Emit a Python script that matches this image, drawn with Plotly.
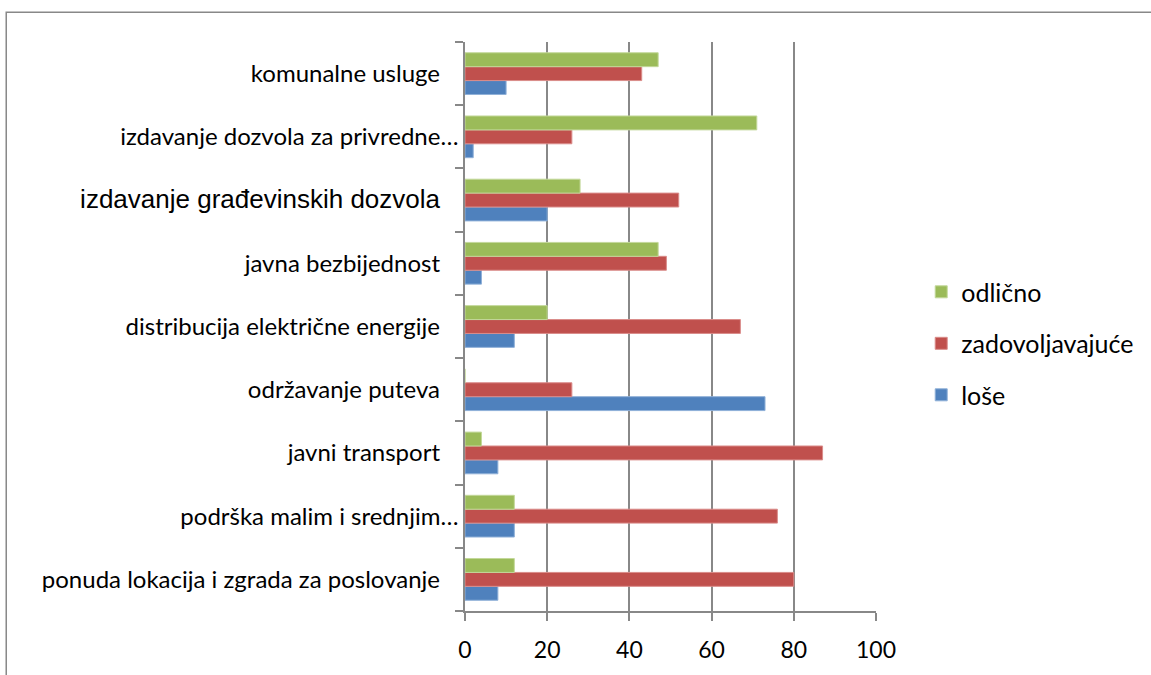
import plotly.graph_objects as go

categories = [
    "ponuda lokacija i zgrada za poslovanje",
    "podrška malim i srednjim…",
    "javni transport",
    "održavanje puteva",
    "distribucija električne energije",
    "javna bezbijednost",
    "izdavanje građevinskih dozvola",
    "izdavanje dozvola za privredne…",
    "komunalne usluge",
]
lose = [8, 12, 8, 73, 12, 4, 20, 2, 10]
zadovoljavajuce = [80, 76, 87, 26, 67, 49, 52, 26, 43]
odlicno = [12, 12, 4, 0, 20, 47, 28, 71, 47]
x_ticks = [0, 20, 40, 60, 80, 100]

PAD = "\u00a0" * 3
tick_text = []
for c in categories:
    if c.endswith("…"):
        tick_text.append(c)
    elif c == "izdavanje građevinskih dozvola":
        tick_text.append('<span style="font-family:Liberation Sans, Arial; font-size:26px">' + c + '</span>' + PAD)
    else:
        tick_text.append(c + PAD)

fig = go.Figure()
series = [
    ("loše", lose, "#4F81BD", "#8fb0d8", 3),
    ("zadovoljavajuće", zadovoljavajuce, "#C0504D", "#da8c8a", 2),
    ("odlično", odlicno, "#9BBB59", "#c3d89a", 1),
]
for name, vals, col, lcol, rank in series:
    fig.add_trace(go.Bar(
        y=categories, x=vals, name=name, orientation="h",
        marker=dict(color=col, line=dict(color=lcol, width=1)),
        legendgroup=name, legendrank=rank,
    ))

fig.update_layout(
    width=1151, height=675,
    barmode="group", bargap=0.34, bargroupgap=0,
    paper_bgcolor="white", plot_bgcolor="white",
    margin=dict(l=465, r=273, t=42, b=58),
    font=dict(family="Lato, Carlito, sans-serif", size=24, color="black"),
    legend=dict(
        x=1.11, y=0.47, xanchor="left", yanchor="middle",
        traceorder="grouped", tracegroupgap=16,
        font=dict(size=25),
    ),
    showlegend=True,
)
fig.update_xaxes(
    range=[0, 100], tickvals=x_ticks,
    showgrid=True, gridcolor="#888888", gridwidth=1.5,
    showline=True, linecolor="#888888", linewidth=1.5,
    ticks="outside", ticklen=8, tickcolor="#888888", tickwidth=1.5,
    tickfont=dict(size=23), ticklabelstandoff=10,
    zeroline=False, fixedrange=True,
)
fig.update_yaxes(
    type="category", tickvals=categories, ticktext=tick_text,
    tickson="boundaries",
    showline=True, linecolor="#888888", linewidth=1.5,
    ticks="outside", ticklen=8, tickcolor="#888888", tickwidth=1.5,
    ticklabelstandoff=0,
    tickfont=dict(size=24), showgrid=False,
)
fig.add_shape(
    type="rect", xref="paper", yref="paper",
    x0=(4 - 465) / 413, x1=(1170 - 465) / 413,
    y0=(617 - 690) / 575, y1=(617 - 12) / 575,
    line=dict(color="#888888", width=1.5), fillcolor="rgba(0,0,0,0)",
    layer="below",
)
fig.write_html("out.html", config={"displayModeBar": False},
               post_script="document.body.style.margin='0';")
